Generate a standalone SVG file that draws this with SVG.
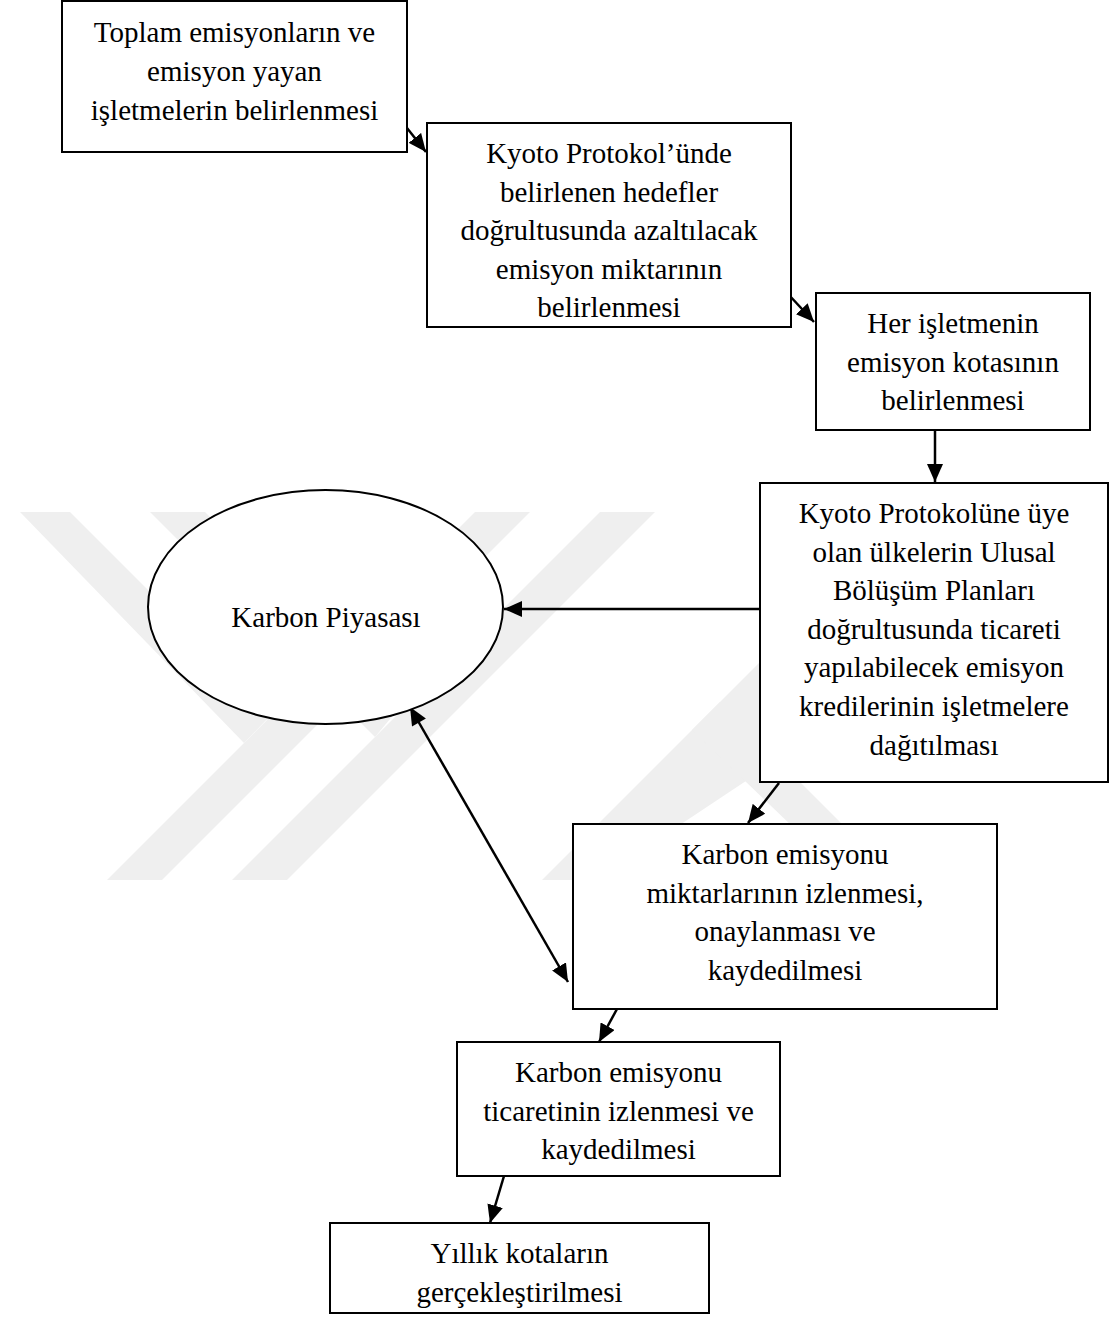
<svg xmlns="http://www.w3.org/2000/svg" width="1109" height="1323" viewBox="0 0 1109 1323">
<style>
.box{fill:#fff;stroke:#000;stroke-width:2}
.ell{fill:#fff;stroke:#000;stroke-width:2}
.t{font-family:"Liberation Serif","Times New Roman",serif;font-size:29px;fill:#000;text-anchor:middle}
.c{stroke:#000;stroke-width:2.5;fill:none}
.wm{fill:#efefef}
</style>
<defs>
<marker id="ah" markerUnits="userSpaceOnUse" markerWidth="20" markerHeight="16" refX="18" refY="8" orient="auto">
<path d="M0,0 L18,8 L0,16 z" fill="#000"/>
</marker>
<marker id="ahs" markerUnits="userSpaceOnUse" markerWidth="20" markerHeight="16" refX="0" refY="8" orient="auto">
<path d="M18,0 L0,8 L18,16 z" fill="#000"/>
</marker>
</defs>
<rect width="1109" height="1323" fill="#fff"/>
<g id="watermark">
<polygon class="wm" points="475,512 530,512 162,880 107,880"/>
<polygon class="wm" points="20,512 70,512 272,714 244,743"/>
<polygon class="wm" points="600,512 655,512 287,880 232,880"/>
<polygon class="wm" points="150,512 205,512 400,707 375,737"/>
<polygon class="wm" points="910,512 1109,512 1109,540 597,880 542,880"/>
<polygon class="wm" points="692,730 720,702 898,880 848,880"/>
</g>
<g id="connectors">
<line class="c" x1="403" y1="123" x2="426" y2="152" marker-end="url(#ah)"/>
<line class="c" x1="789" y1="295" x2="814" y2="322" marker-end="url(#ah)"/>
<line class="c" x1="935" y1="431" x2="935" y2="482" marker-end="url(#ah)"/>
<line class="c" x1="760" y1="609" x2="504" y2="609" marker-end="url(#ah)"/>
<line class="c" x1="779" y1="783" x2="748" y2="823" marker-end="url(#ah)"/>
<line class="c" x1="410" y1="707" x2="568" y2="982" marker-start="url(#ahs)" marker-end="url(#ah)"/>
<line class="c" x1="617" y1="1009" x2="599" y2="1042" marker-end="url(#ah)"/>
<line class="c" x1="504" y1="1176" x2="490" y2="1223" marker-end="url(#ah)"/>
</g>
<g id="n1">
<rect class="box" x="62" y="1" width="345" height="151"/>
<text class="t" x="234.5" y="42">Toplam emisyonların ve</text>
<text class="t" x="234.5" y="81">emisyon yayan</text>
<text class="t" x="234.5" y="120">işletmelerin belirlenmesi</text>
</g>
<g id="n2">
<rect class="box" x="427" y="123" width="364" height="204"/>
<text class="t" x="609" y="163">Kyoto Protokol’ünde</text>
<text class="t" x="609" y="202">belirlenen hedefler</text>
<text class="t" x="609" y="240">doğrultusunda azaltılacak</text>
<text class="t" x="609" y="279">emisyon miktarının</text>
<text class="t" x="609" y="317">belirlenmesi</text>
</g>
<g id="n3">
<rect class="box" x="816" y="293" width="274" height="137"/>
<text class="t" x="953" y="333">Her işletmenin</text>
<text class="t" x="953" y="372">emisyon kotasının</text>
<text class="t" x="953" y="410">belirlenmesi</text>
</g>
<g id="n4">
<rect class="box" x="760" y="483" width="348" height="299"/>
<text class="t" x="934" y="523">Kyoto Protokolüne üye</text>
<text class="t" x="934" y="562">olan ülkelerin Ulusal</text>
<text class="t" x="934" y="600">Bölüşüm Planları</text>
<text class="t" x="934" y="639">doğrultusunda ticareti</text>
<text class="t" x="934" y="677">yapılabilecek emisyon</text>
<text class="t" x="934" y="716">kredilerinin işletmelere</text>
<text class="t" x="934" y="755">dağıtılması</text>
</g>
<g id="karbon">
<ellipse class="ell" cx="325.5" cy="607" rx="177.5" ry="117"/>
<text class="t" x="326" y="627">Karbon Piyasası</text>
</g>
<g id="n5">
<rect class="box" x="573" y="824" width="424" height="185"/>
<text class="t" x="785" y="864">Karbon emisyonu</text>
<text class="t" x="785" y="903">miktarlarının izlenmesi,</text>
<text class="t" x="785" y="941">onaylanması ve</text>
<text class="t" x="785" y="980">kaydedilmesi</text>
</g>
<g id="n6">
<rect class="box" x="457" y="1042" width="323" height="134"/>
<text class="t" x="618.5" y="1082">Karbon emisyonu</text>
<text class="t" x="618.5" y="1121">ticaretinin izlenmesi ve</text>
<text class="t" x="618.5" y="1159">kaydedilmesi</text>
</g>
<g id="n7">
<rect class="box" x="330" y="1223" width="379" height="90"/>
<text class="t" x="519.5" y="1263">Yıllık kotaların</text>
<text class="t" x="519.5" y="1302">gerçekleştirilmesi</text>
</g>
</svg>
